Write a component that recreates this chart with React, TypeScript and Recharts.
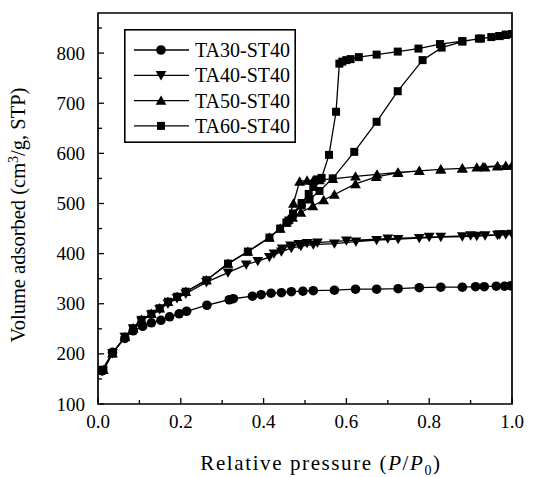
import React from 'react';
import { LineChart, Line, XAxis, YAxis, ReferenceArea, Legend } from 'recharts';

// ---------- data ----------
const ta30P = [0.01, 0.035, 0.065, 0.085, 0.108, 0.129, 0.152, 0.173, 0.196, 0.214, 0.263, 0.317, 0.327, 0.373, 0.394, 0.418, 0.443, 0.467, 0.495, 0.52, 0.571, 0.622, 0.673, 0.725, 0.776, 0.828, 0.88, 0.912, 0.933, 0.962, 0.982, 0.997];
const ta30V = [166, 203, 231, 246, 255, 262, 267, 274, 280, 285, 297, 308, 310, 315, 318, 321, 322, 324, 325, 326, 327, 329, 329, 330, 332, 333, 333, 334, 334, 335, 335, 336];

const ta40P = [0.01, 0.035, 0.065, 0.085, 0.105, 0.129, 0.149, 0.169, 0.191, 0.212, 0.262, 0.314, 0.358, 0.386, 0.414, 0.443, 0.467, 0.49, 0.52, 0.571, 0.623, 0.673, 0.725, 0.776, 0.828, 0.88, 0.915, 0.935, 0.965, 0.985, 1.0, 0.97, 0.9, 0.8, 0.7, 0.6, 0.53, 0.505, 0.485, 0.465, 0.445, 0.425];
const ta40V = [168, 201, 234, 250, 266, 278, 289, 300, 311, 320, 343, 362, 378, 385, 393, 404, 411, 415, 418, 420, 424, 427, 429, 431, 433, 434, 435, 436, 437, 438, 439, 438, 436, 433, 430, 426, 422, 421, 419, 416, 410, 400];

const ta50P = [0.013, 0.035, 0.065, 0.085, 0.105, 0.129, 0.149, 0.169, 0.191, 0.212, 0.262, 0.314, 0.362, 0.414, 0.44, 0.455, 0.47, 0.49, 0.519, 0.545, 0.571, 0.622, 0.672, 0.724, 0.776, 0.828, 0.88, 0.915, 0.935, 0.965, 0.985, 1.0, 0.985, 0.965, 0.93, 0.88, 0.828, 0.776, 0.725, 0.674, 0.622, 0.567, 0.535, 0.52, 0.505, 0.487, 0.472, 0.46];
const ta50V = [168, 201, 234, 251, 268, 280, 291, 304, 314, 324, 347, 380, 404, 432, 450, 462, 472, 482, 495, 507, 518, 539, 553, 561, 565, 568, 570, 572, 572, 574, 575, 576, 575, 575, 573, 570, 568, 565, 562, 558, 554, 549, 547, 546, 546, 544, 500, 468];

const ta60P = [0.013, 0.035, 0.065, 0.085, 0.105, 0.129, 0.149, 0.169, 0.191, 0.212, 0.262, 0.314, 0.362, 0.414, 0.44, 0.455, 0.471, 0.492, 0.511, 0.535, 0.567, 0.619, 0.673, 0.724, 0.784, 0.83, 0.88, 0.92, 0.95, 0.97, 0.985, 1.0, 0.985, 0.969, 0.925, 0.88, 0.826, 0.774, 0.724, 0.673, 0.63, 0.61, 0.6, 0.59, 0.583, 0.575, 0.558, 0.54, 0.53, 0.52, 0.509, 0.492, 0.471, 0.46];
const ta60V = [168, 201, 234, 251, 268, 280, 291, 304, 314, 324, 347, 380, 404, 432, 450, 462, 478, 496, 508, 525, 550, 603, 663, 724, 786, 811, 823, 829, 832, 834, 836, 838, 837, 834, 829, 824, 818, 809, 803, 797, 792, 788, 786, 783, 779, 683, 597, 551, 548, 533, 519, 501, 480, 466];

const seriesNames = ['TA30-ST40', 'TA40-ST40', 'TA50-ST40', 'TA60-ST40'];
const seriesMarkers = ['circle', 'down', 'up', 'square'];

const xTicks = [0, 0.1, 0.2, 0.3, 0.4, 0.5, 0.6, 0.7, 0.8, 0.9, 1.0];
const yTicks = [100, 150, 200, 250, 300, 350, 400, 450, 500, 550, 600, 650, 700, 750, 800, 850];

const toRows = (ps: number[], vs: number[]) => ps.map((p, i) => ({ p, v: vs[i] }));
const seriesData = [toRows(ta30P, ta30V), toRows(ta40P, ta40V), toRows(ta50P, ta50V), toRows(ta60P, ta60V)];

// ---------- styles ----------
const FONT = "'Liberation Serif', 'DejaVu Serif', 'Times New Roman', serif";
const INK = '#000';
const txt = (size: number, extra: React.CSSProperties = {}): React.CSSProperties => ({ fontFamily: FONT, fontSize: size, fill: INK, ...extra });

function Marker({ type, cx, cy }: { type: string; cx: number; cy: number }) {
  if (type === 'circle') return <circle cx={cx} cy={cy} r={4.8} fill={INK} />;
  if (type === 'down') return <path d={`M${cx - 5.4},${cy - 4.2} L${cx + 5.4},${cy - 4.2} L${cx},${cy + 5.2} Z`} fill={INK} />;
  if (type === 'up') return <path d={`M${cx - 5.4},${cy + 4.2} L${cx + 5.4},${cy + 4.2} L${cx},${cy - 5.2} Z`} fill={INK} />;
  return <rect x={cx - 4} y={cy - 4} width={8} height={8} fill={INK} />;
}

const makeDot = (type: string) => (props: any) => {
  const { cx, cy, index } = props;
  if (cx == null || cy == null) return <g key={index} />;
  return <g key={index}><Marker type={type} cx={cx} cy={cy} /></g>;
};

const XTick = (props: any) => {
  const { x, y, payload } = props;
  const val = payload.value as number;
  const major = Math.round(val * 10) % 2 === 0;
  return (
    <g>
      <line x1={x} x2={x} y1={y} y2={y - (major ? 6 : 4)} stroke={INK} strokeWidth={1.3} />
      {major && (
        <text x={x} y={y + 24} textAnchor="middle" style={txt(19)}>
          {val.toFixed(1)}
        </text>
      )}
    </g>
  );
};

const YTick = (props: any) => {
  const { x, y, payload } = props;
  const val = payload.value as number;
  const major = val % 100 === 0;
  return (
    <g>
      <line x1={x} x2={x + (major ? 6 : 4)} y1={y} y2={y} stroke={INK} strokeWidth={1.3} />
      {major && val <= 800 && (
        <text x={x - 13} y={y + 6.5} textAnchor="end" style={txt(19)}>
          {val}
        </text>
      )}
    </g>
  );
};

const XTitle = (props: any) => {
  const vb = props.viewBox || {};
  const cx = vb.x + vb.width / 2 + 16;
  return (
    <text x={cx} y={470} textAnchor="middle" style={txt(21, { letterSpacing: 1.6 })}>
      Relative pressure (<tspan fontStyle="italic">P</tspan>/<tspan fontStyle="italic">P</tspan>
      <tspan dy={5} style={{ fontSize: 14 }}>0</tspan>
      <tspan dy={-5}>)</tspan>
    </text>
  );
};

const YTitle = () => (
  <text x={0} y={0} transform="translate(25,215) rotate(-90)" textAnchor="middle" style={txt(20.5)}>
    Volume adsorbed (cm<tspan dy={-7} style={{ fontSize: 14 }}>3</tspan>
    <tspan dy={7}>/g, STP)</tspan>
  </text>
);

const LegendBox = () => (
  <svg width={172} height={114} style={{ display: 'block' }}>
    <rect x={0.8} y={0.8} width={170.4} height={112.4} fill="#fff" stroke={INK} strokeWidth={1.6} />
    {seriesNames.map((name, i) => {
      const cy = 21 + i * 25.3;
      return (
        <g key={name}>
          <line x1={10} x2={65} y1={cy} y2={cy} stroke={INK} strokeWidth={1.3} />
          <Marker type={seriesMarkers[i]} cx={37} cy={cy} />
          <text x={71} y={cy + 7} style={txt(20)}>
            {name}
          </text>
        </g>
      );
    })}
  </svg>
);

export default function App() {
  return (
    <div style={{ position: 'absolute', left: 0, top: 0, width: 538, height: 477, background: '#fff' }}>
      <LineChart width={538} height={477} margin={{ top: 13, right: 26, bottom: 0, left: 0 }}>
        <XAxis
          dataKey="p"
          type="number"
          domain={[0, 1]}
          ticks={xTicks}
          interval={0}
          height={73}
          tickSize={0}
          tickMargin={0}
          tickLine={false}
          axisLine={false}
          tick={<XTick />}
          allowDataOverflow
          label={{ content: <XTitle /> } as any}
        />
        <YAxis
          dataKey="v"
          type="number"
          domain={[100, 880]}
          ticks={yTicks}
          interval={0}
          width={98}
          tickSize={0}
          tickMargin={0}
          tickLine={false}
          axisLine={false}
          tick={<YTick />}
          allowDataOverflow
          label={{ content: <YTitle /> } as any}
        />
        <ReferenceArea x1={0} x2={1} y1={100} y2={880} fill="none" stroke={INK} strokeWidth={1.7} ifOverflow="visible" />
        {seriesData.map((d, i) => (
          <Line
            key={seriesNames[i]}
            data={d}
            dataKey="v"
            name={seriesNames[i]}
            type="linear"
            stroke={INK}
            strokeWidth={1.3}
            dot={makeDot(seriesMarkers[i])}
            activeDot={false}
            isAnimationActive={false}
          />
        ))}
        <Legend
          layout="horizontal"
          align="center"
          verticalAlign="middle"
          content={() => <LegendBox />}
          wrapperStyle={{ position: 'absolute', left: 124, top: 29, width: 172, height: 114 }}
        />
      </LineChart>
    </div>
  );
}
